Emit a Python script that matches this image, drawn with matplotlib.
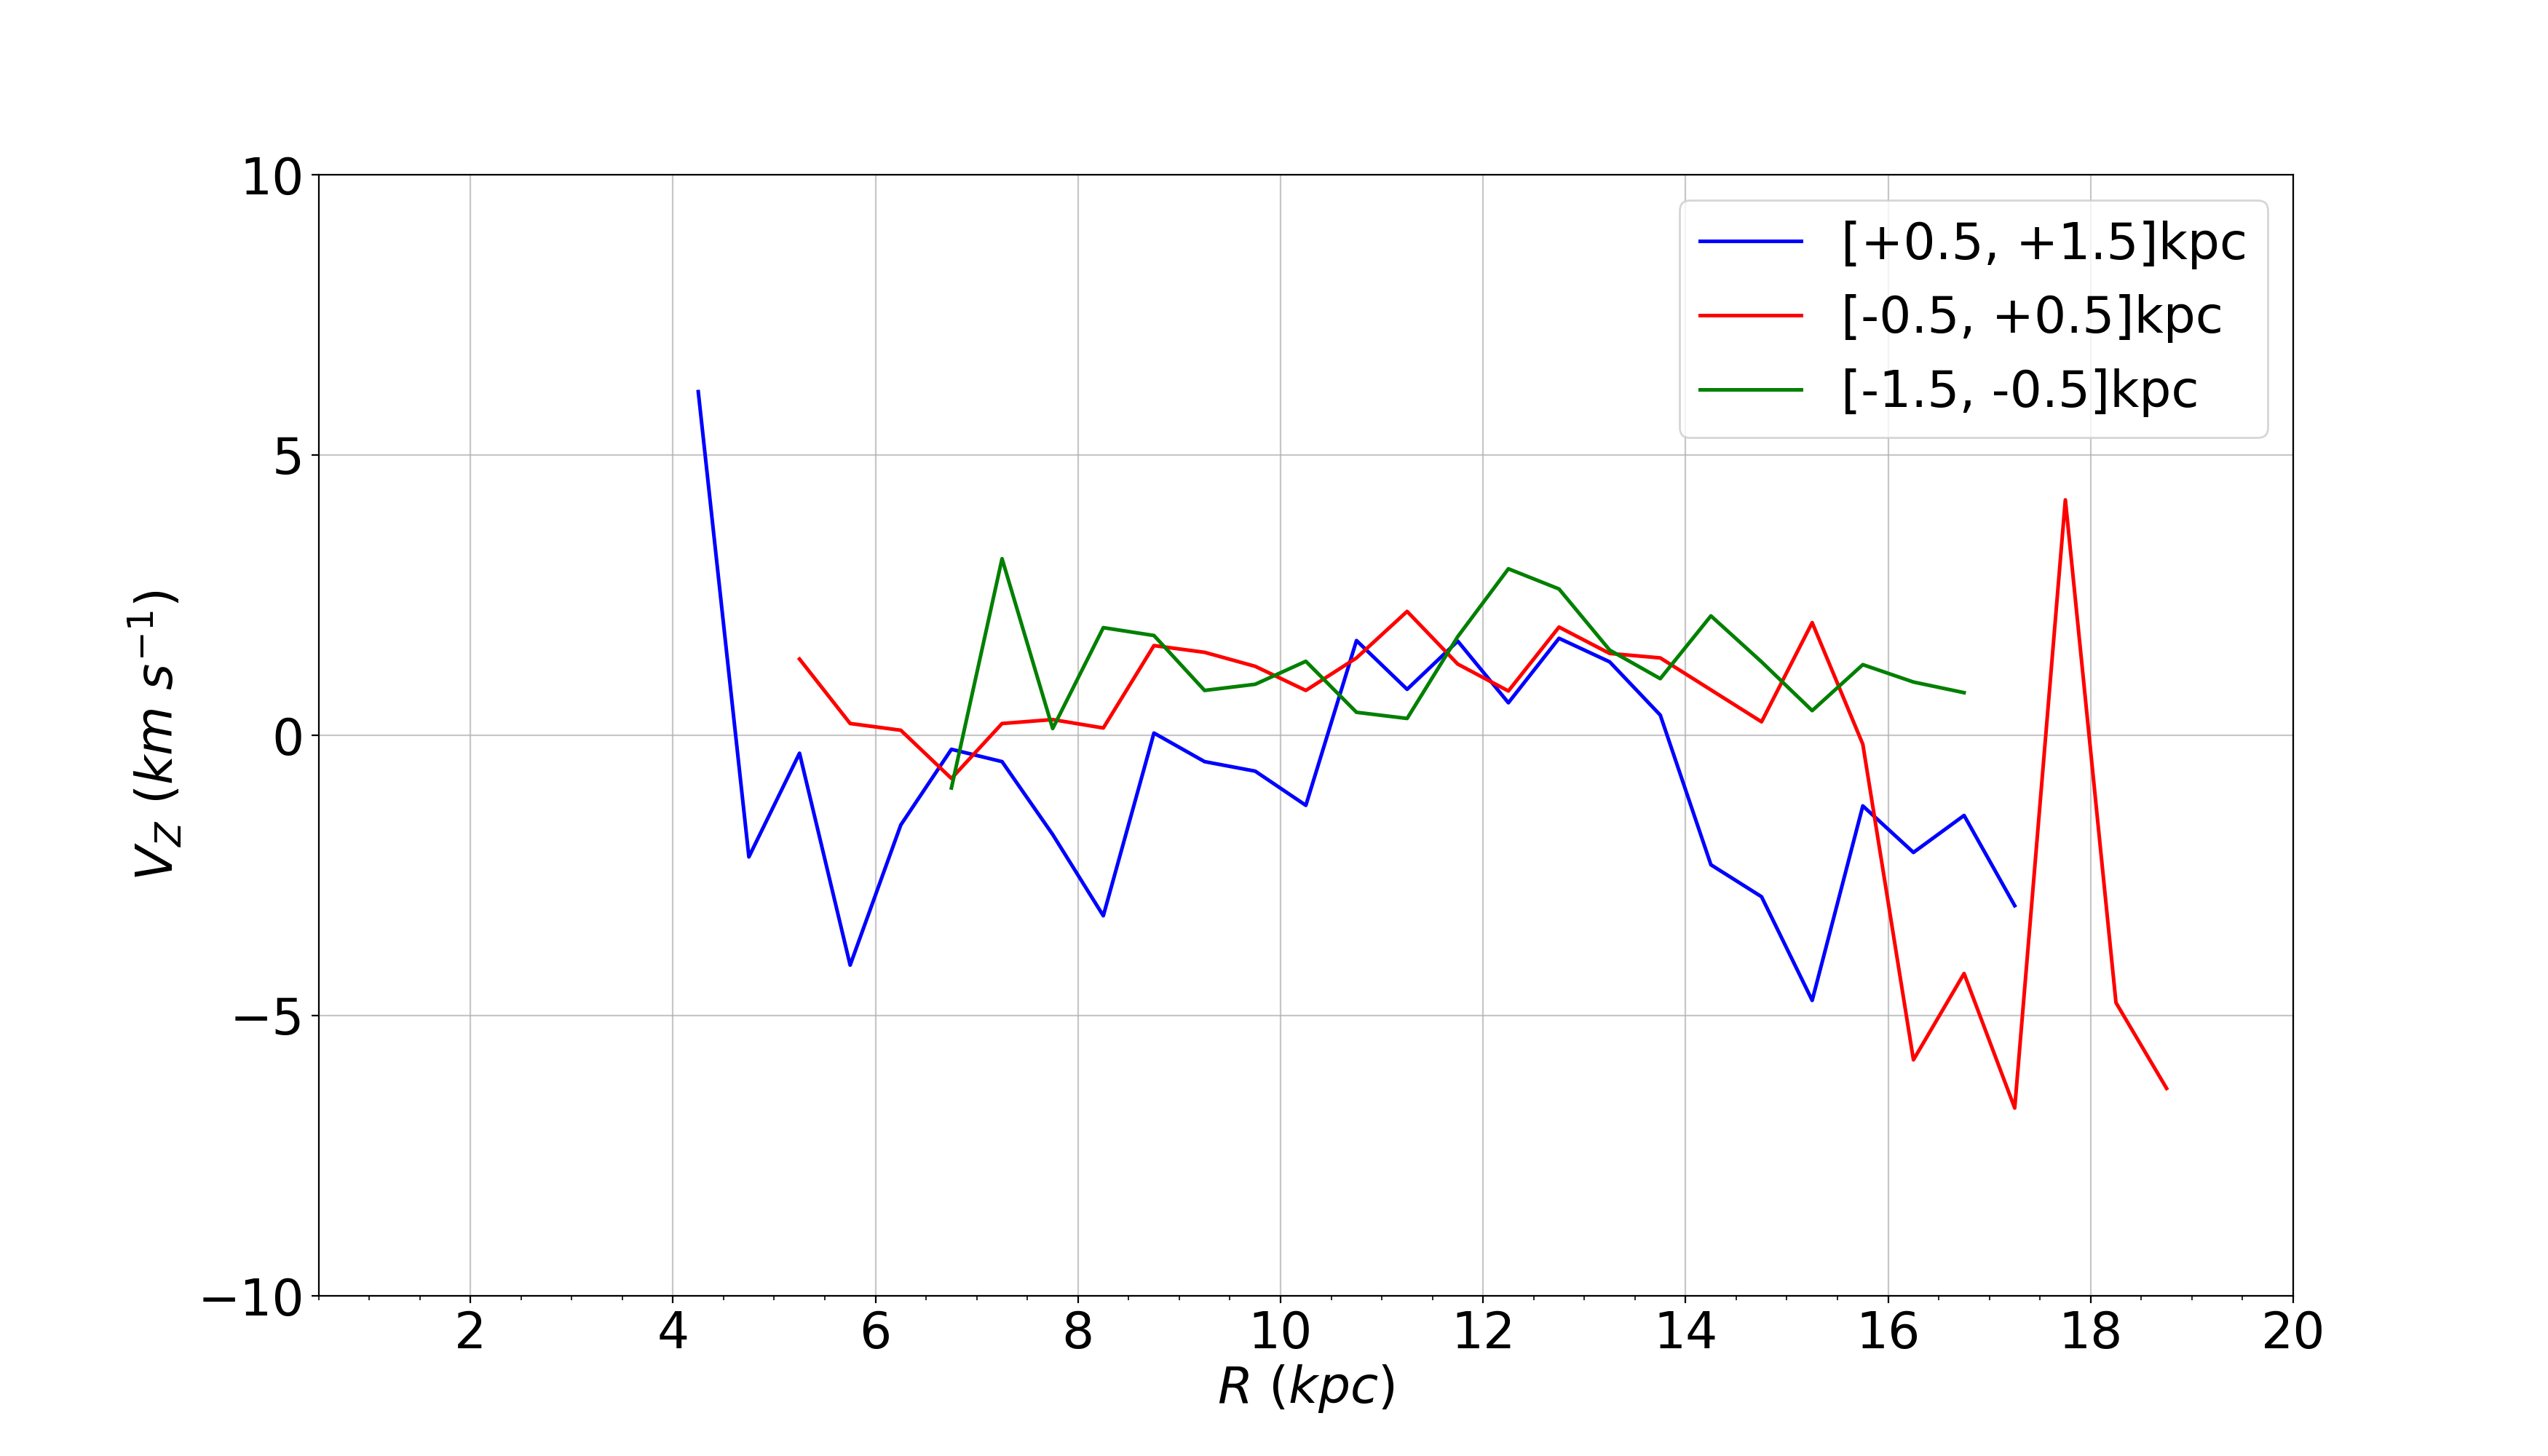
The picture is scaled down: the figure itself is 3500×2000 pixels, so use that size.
import matplotlib
matplotlib.use("Agg")
import matplotlib.pyplot as plt
from matplotlib.ticker import MultipleLocator

R_blue = [4.25, 4.75, 5.25, 5.75, 6.25, 6.75, 7.25, 7.75, 8.25, 8.75, 9.25, 9.75,
          10.25, 10.75, 11.25, 11.75, 12.25, 12.75, 13.25, 13.75, 14.25, 14.75,
          15.25, 15.75, 16.25, 16.75, 17.25]
vz_blue = [6.13, -2.17, -0.32, -4.10, -1.60, -0.25, -0.47, -1.77, -3.22, 0.04, -0.47, -0.64,
           -1.25, 1.69, 0.82, 1.68, 0.58, 1.73, 1.31, 0.36, -2.31, -2.88,
           -4.73, -1.26, -2.09, -1.43, -3.04]

R_red = [5.25, 5.75, 6.25, 6.75, 7.25, 7.75, 8.25, 8.75, 9.25, 9.75, 10.25, 10.75,
         11.25, 11.75, 12.25, 12.75, 13.25, 13.75, 14.25, 14.75, 15.25, 15.75,
         16.25, 16.75, 17.25, 17.75, 18.25, 18.75]
vz_red = [1.36, 0.21, 0.09, -0.77, 0.21, 0.28, 0.13, 1.60, 1.48, 1.23, 0.80, 1.38,
          2.21, 1.27, 0.79, 1.93, 1.46, 1.38, 0.81, 0.24, 2.01, -0.16,
          -5.79, -4.25, -6.65, 4.20, -4.77, -6.30]

R_green = [6.75, 7.25, 7.75, 8.25, 8.75, 9.25, 9.75, 10.25, 10.75, 11.25, 11.75,
           12.25, 12.75, 13.25, 13.75, 14.25, 14.75, 15.25, 15.75, 16.25, 16.75]
vz_green = [-0.94, 3.15, 0.12, 1.92, 1.78, 0.80, 0.91, 1.32, 0.41, 0.30, 1.76,
            2.97, 2.61, 1.52, 1.01, 2.13, 1.31, 0.44, 1.26, 0.95, 0.76]

labels = ["[+0.5, +1.5]kpc", "[-0.5, +0.5]kpc", "[-1.5, -0.5]kpc"]

plt.rcParams['font.family'] = ['DejaVu Sans']
plt.rcParams['font.size'] = 25

fig, ax = plt.subplots(figsize=(17.5, 10), dpi=200)
lw = 1.8
ax.plot(R_blue, vz_blue, color='blue', lw=lw, label=labels[0])
ax.plot(R_red, vz_red, color='red', lw=lw, label=labels[1])
ax.plot(R_green, vz_green, color='green', lw=lw, label=labels[2])

ax.set_xlim(0.5, 20)
ax.set_ylim(-10, 10)
ax.set_xticks([2, 4, 6, 8, 10, 12, 14, 16, 18, 20])
ax.set_yticks([-10, -5, 0, 5, 10])
ax.xaxis.set_minor_locator(MultipleLocator(0.5))
ax.grid(True, which='major', color='#b0b0b0', lw=0.8, alpha=0.7)
ax.tick_params(axis='both', which='major', labelsize=25)
ax.set_xlabel(r'$R\ (kpc)$', fontsize=25, labelpad=2)
ax.set_ylabel(r'$V_Z\ (km\ s^{-1})$', fontsize=25, labelpad=7)
ax.legend(loc='upper right', fontsize=25)

fig.savefig('out.png')
